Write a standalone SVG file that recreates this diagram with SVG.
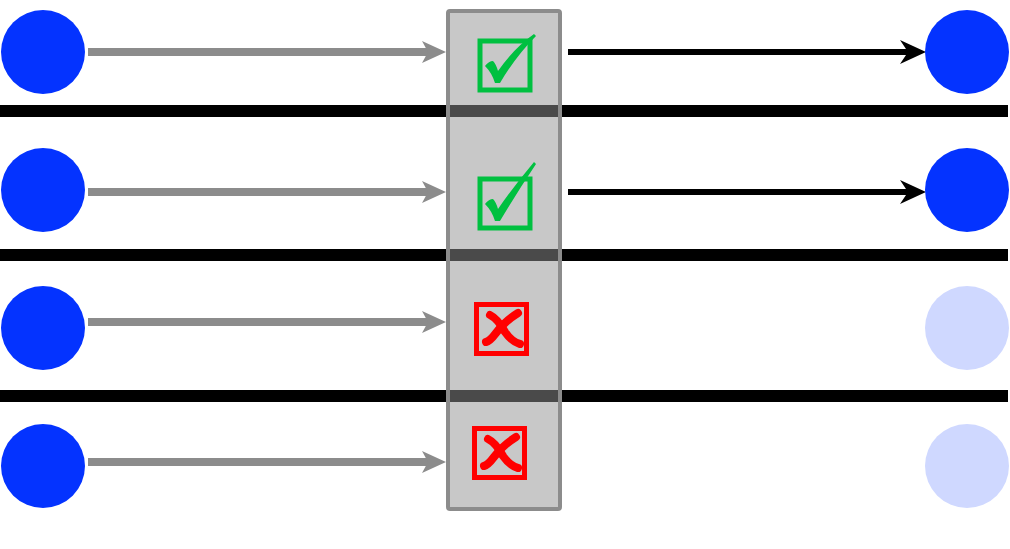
<svg xmlns="http://www.w3.org/2000/svg" width="1010" height="549" viewBox="0 0 1010 549">
<defs>
<style>
.dot{fill:#0433ff}
.faint{fill:#cfd8ff}
.sep{stroke:#000;stroke-width:12}
.in{stroke:#8c8c8c;stroke-width:8;fill:none}
.out{stroke:#000;stroke-width:6;fill:none}
.ok{fill:none;stroke:#00c040;stroke-width:5}
.okm{fill:#00c040}
.no{fill:none;stroke:#ff0000;stroke-width:5}
.nom{fill:none;stroke:#ff0000;stroke-width:8;stroke-linecap:round}
</style>
</defs>
<rect width="1010" height="549" fill="#fff"/>
<g id="separators">
<line class="sep" x1="0" y1="111" x2="1008" y2="111"/>
<line class="sep" x1="0" y1="255" x2="1008" y2="255"/>
<line class="sep" x1="0" y1="396" x2="1008" y2="396"/>
</g>
<g id="gate">
<rect x="448" y="11" width="112" height="498" rx="2" fill="#929292" fill-opacity="0.506" stroke="#8c8c8c" stroke-width="4"/>
</g>
<g id="connectors">
<line class="in" x1="88" y1="52" x2="428" y2="52"/>
<path d="M422,41 L446,52 L422,63 L428,52 z" fill="#8c8c8c"/>
<line class="in" x1="88" y1="192" x2="428" y2="192"/>
<path d="M422,181 L446,192 L422,203 L428,192 z" fill="#8c8c8c"/>
<line class="in" x1="88" y1="322" x2="428" y2="322"/>
<path d="M422,311 L446,322 L422,333 L428,322 z" fill="#8c8c8c"/>
<line class="in" x1="88" y1="462" x2="428" y2="462"/>
<path d="M422,451 L446,462 L422,473 L428,462 z" fill="#8c8c8c"/>
<line class="out" x1="568" y1="52" x2="908" y2="52"/>
<path d="M900,40 L926,52 L900,64 L908,52 z" fill="#000"/>
<line class="out" x1="568" y1="192" x2="908" y2="192"/>
<path d="M900,180 L926,192 L900,204 L908,192 z" fill="#000"/>
</g>
<g id="src1"><circle class="dot" cx="43" cy="52" r="42"/></g>
<g id="src2"><circle class="dot" cx="43" cy="190" r="42"/></g>
<g id="src3"><circle class="dot" cx="43" cy="328" r="42"/></g>
<g id="src4"><circle class="dot" cx="43" cy="466" r="42"/></g>
<g id="dst1"><circle class="dot" cx="967" cy="52" r="42"/></g>
<g id="dst2"><circle class="dot" cx="967" cy="190" r="42"/></g>
<g id="dst3"><circle class="faint" cx="967" cy="328" r="42"/></g>
<g id="dst4"><circle class="faint" cx="967" cy="466" r="42"/></g>
<g id="check1">
<rect class="ok" x="480" y="41" width="50" height="49"/>
<path class="okm" d="M485,66 Q489,61 493,61 Q496,64 498,71 Q514,48 534,34 L536,36 Q516,56 500,83 L495,83 Q492,73 485,66 z"/>
</g>
<g id="check2">
<rect class="ok" x="480" y="179" width="50" height="49"/>
<path class="okm" d="M485,204 Q489,199 493,199 Q496,202 498,209 Q514,186 534,162 L536,164 Q516,194 500,221 L495,221 Q492,211 485,204 z"/>
</g>
<g id="cross3">
<rect class="no" x="476.5" y="304.5" width="50" height="49"/>
<path class="nom" d="M490,315 Q498,319 505,332 Q512,342 520,344"/>
<path class="nom" d="M518,313 Q505,321 496,333 Q490,341 486,342"/>
</g>
<g id="cross4">
<rect class="no" x="474.5" y="428.5" width="50" height="49"/>
<path class="nom" d="M488,439 Q496,443 503,456 Q510,466 518,468"/>
<path class="nom" d="M516,437 Q503,445 494,457 Q488,465 484,466"/>
</g>
</svg>
